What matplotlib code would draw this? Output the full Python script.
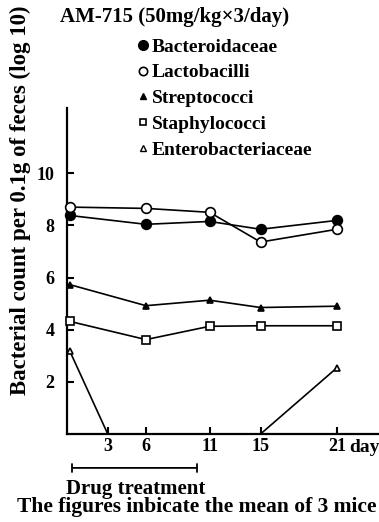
import matplotlib.pyplot as plt
from matplotlib.lines import Line2D

plt.rcParams['font.family'] = ['Liberation Serif', 'DejaVu Serif']
plt.rcParams['font.weight'] = 'bold'

days = [0, 6, 11, 15, 21]
bacteroidaceae = [8.38, 8.04, 8.15, 7.85, 8.19]
lactobacilli = [8.7, 8.65, 8.5, 7.36, 7.85]
streptococci = [5.73, 4.92, 5.13, 4.85, 4.9]
staphylococci = [4.32, 3.62, 4.13, 4.15, 4.15]
entero_days = [0, 3, 15, 21]
enterobacteriaceae = [3.2, 0, 0, 2.54]

xticks = [3, 6, 11, 15, 21]
yticks = [2, 4, 6, 8, 10]
treatment = (0, 10.2)

W, H = 379, 522
fig = plt.figure(figsize=(W / 100, H / 100), dpi=100)
ax = fig.add_axes([67 / W, 1 - 434 / H, 1 - 67 / W, (434 - 108) / H])

k = dict(color='black', lw=1.2, markeredgewidth=1.2, clip_on=False, zorder=3)
ax.plot(days, bacteroidaceae, marker='o', ms=7, mfc='black', mec='black', **k)
ax.plot(days, lactobacilli, marker='o', ms=7, mfc='white', mec='black', **k)
ax.plot(days, streptococci, marker='^', ms=5, mfc='black', mec='black', **k)
ax.plot(days, staphylococci, marker='s', ms=6, mfc='white', mec='black', **k)
ax.plot(entero_days, enterobacteriaceae, marker='^', ms=5, mfc='white', mec='black',
        markevery=[0, 3], **k)

ax.set_xlim(-0.2, 24.3)
ax.set_ylim(0, 12.5)
ax.spines['top'].set_visible(False)
ax.spines['right'].set_visible(False)
ax.spines['left'].set_linewidth(1.6)
ax.spines['bottom'].set_linewidth(1.6)
ax.set_xticks(xticks)
ax.set_yticks(yticks)
ax.tick_params(direction='in', length=5, width=1.5, labelsize=13)
ax.tick_params(axis='y', pad=9)
ax.tick_params(axis='x', pad=3)
ax.text(22.0, -0.5, 'day', fontsize=14, va='center', ha='left')

# drug treatment bar
ax.annotate('', xy=(treatment[0], -1.3), xytext=(treatment[1], -1.3),
            annotation_clip=False,
            arrowprops=dict(arrowstyle='|-|', lw=1.3, mutation_scale=3))
ax.text(-0.3, -2.1, 'Drug treatment', fontsize=15, va='center', ha='left')

fig.text(17 / W, 1 - 507 / H, 'The figures inbicate the mean of 3 mice',
         fontsize=15.5, va='center', ha='left')
fig.text(20 / W, 1 - 200 / H, 'Bacterial count per 0.1g of feces (log 10)',
         rotation=90, fontsize=16.5, va='center', ha='center')
fig.text(60 / W, 1 - 17 / H, 'AM-715 (50mg/kg\u00d73/day)', fontsize=15,
         va='center', ha='left')

handles = [
    Line2D([], [], ls='none', marker='o', ms=7, mfc='black', mec='black', label='Bacteroidaceae'),
    Line2D([], [], ls='none', marker='o', ms=6, mfc='white', mec='black', mew=1.2, label='Lactobacilli'),
    Line2D([], [], ls='none', marker='^', ms=5, mfc='black', mec='black', label='Streptococci'),
    Line2D([], [], ls='none', marker='s', ms=5, mfc='white', mec='black', mew=1.2, label='Staphylococci'),
    Line2D([], [], ls='none', marker='^', ms=5, mfc='white', mec='black', mew=1.0, label='Enterobacteriaceae'),
]
fig.legend(handles=handles, loc='upper left', bbox_to_anchor=(137 / W, 1 - 38 / H),
           frameon=False, fontsize=14, handlelength=0.6, handletextpad=0.15,
           labelspacing=0.42, borderaxespad=0, borderpad=0)

fig.savefig('out.png', dpi=100)
